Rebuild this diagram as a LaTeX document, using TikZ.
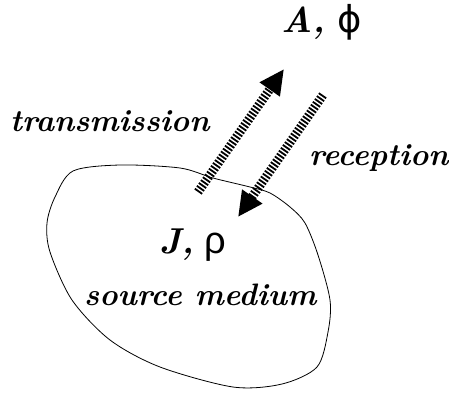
\documentclass[tikz,border=0pt]{standalone}
\usepackage{fontspec}
\newfontfamily\symfont{Liberation Sans}
\newfontfamily\phifont{DejaVu Sans}
\usetikzlibrary{arrows.meta}
\tikzset{
  lbl/.style={font=\fontsize{31}{34}\selectfont\bfseries\itshape, inner sep=0pt},
  big/.style={font=\fontsize{36}{40}\selectfont\bfseries\itshape, inner sep=0pt},
  hatched/.style={line width=9pt, dash pattern=on 1.8pt off 1.7pt,
    -{Triangle[length=25pt, width=23pt]}},
  blob/.style={line width=0.8pt}
}
\newcommand{\grk}[1]{{\mdseries\upshape\symfont\fontsize{38}{40}\selectfont #1}}
\newcommand{\phisym}{{\mdseries\upshape\phifont\fontsize{37}{40}\selectfont ϕ}}
\begin{document}
\begin{tikzpicture}[x=1pt, y=-1pt]
\useasboundingbox (0,0) rectangle (449,394);
% source medium outline
\draw[blob] plot[smooth cycle, tension=0.5] coordinates {
  (73,171) (120,165) (180,168) (213,178) (250,187) (270,193) (290,207)
  (305,223) (318,255) (330,300) (328,332) (317,367) (282,384) (233,387)
  (160,367) (110,340) (72,300) (50,252) (47,223) (55,197)};
% arrow ends
\coordinate (t1) at (198,192);
\coordinate (t2) at (284,69);
\coordinate (r1) at (323,95);
\coordinate (r2) at (238,217);
\draw[hatched] (t1) -- (t2);
\draw[hatched] (r1) -- (r2);
% labels
\node[big, anchor=base west] (A) at (281,32) {A,\hspace{12pt}\phisym};
\node[lbl, anchor=base west] (tr) at (10,131) {transmission};
\node[lbl, anchor=base west] (re) at (309,165) {reception};
\node[big, anchor=base west] (J) at (159,253) {J,\hspace{10pt}\grk{ρ}};
\node[lbl, anchor=base west] (sm) at (84,305) {source medium};
\end{tikzpicture}
\end{document}
